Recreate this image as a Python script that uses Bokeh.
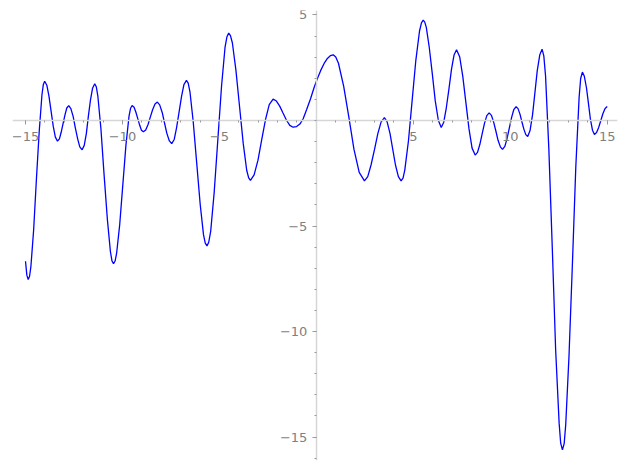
from bokeh.plotting import figure
from bokeh.models import Range1d, FixedTicker
from bokeh.embed import file_html
from bokeh.resources import INLINE

# Curve samples
xs = [-15.00, -14.93, -14.86, -14.79, -14.72, -14.58, -14.44, -14.29, -14.15, -14.08,
      -14.01, -13.90, -13.79, -13.68, -13.57, -13.46, -13.35, -13.25, -13.16, -13.06,
      -12.96, -12.87, -12.77, -12.66, -12.54, -12.43, -12.31, -12.20, -12.08, -11.97,
      -11.86, -11.76, -11.65, -11.54, -11.43, -11.35, -11.27, -11.11, -10.95, -10.78,
      -10.62, -10.54, -10.46, -10.38, -10.30, -10.14, -9.98, -9.82, -9.66, -9.58,
      -9.50, -9.40, -9.31, -9.21, -9.11, -9.02, -8.92, -8.80, -8.68, -8.56,
      -8.44, -8.32, -8.20, -8.08, -7.95, -7.83, -7.71, -7.58, -7.46, -7.33,
      -7.21, -7.08, -6.95, -6.83, -6.70, -6.61, -6.52, -6.35, -6.17, -5.99,
      -5.82, -5.73, -5.64, -5.55, -5.45, -5.27, -5.08, -4.89, -4.71, -4.61,
      -4.52, -4.43, -4.33, -4.15, -3.96, -3.77, -3.59, -3.49, -3.40, -3.21,
      -3.01, -2.82, -2.62, -2.43, -2.23, -2.06, -1.89, -1.72, -1.54, -1.37,
      -1.20, -1.02, -0.85, -0.68, -0.50, -0.30, -0.12, 0.05, 0.22, 0.40,
      0.57, 0.72, 0.87, 1.00, 1.14, 1.41, 1.68, 1.94, 2.21, 2.48,
      2.65, 2.82, 3.00, 3.17, 3.34, 3.51, 3.65, 3.80, 3.94, 4.08,
      4.23, 4.37, 4.47, 4.56, 4.75, 4.94, 5.13, 5.32, 5.42, 5.51,
      5.59, 5.67, 5.82, 5.98, 6.13, 6.29, 6.44, 6.57, 6.70, 6.84,
      6.97, 7.10, 7.23, 7.39, 7.55, 7.71, 7.87, 8.03, 8.19, 8.31,
      8.43, 8.55, 8.67, 8.79, 8.91, 9.03, 9.14, 9.26, 9.37, 9.49,
      9.60, 9.72, 9.83, 9.95, 10.07, 10.18, 10.30, 10.40, 10.50, 10.60,
      10.70, 10.80, 10.90, 11.02, 11.15, 11.27, 11.39, 11.52, 11.64, 11.73,
      11.82, 11.99, 12.17, 12.34, 12.52, 12.60, 12.69, 12.78, 12.86, 13.03,
      13.21, 13.38, 13.55, 13.63, 13.72, 13.82, 13.93, 14.03, 14.13, 14.24,
      14.34, 14.45, 14.56, 14.67, 14.78, 14.89, 15.00]
ys = [-6.67, -7.33, -7.54, -7.38, -6.91, -5.19, -2.84, -0.49, 1.23, 1.70,
      1.86, 1.67, 1.15, 0.44, -0.27, -0.79, -0.98, -0.87, -0.56, -0.14,
      0.28, 0.59, 0.70, 0.56, 0.18, -0.35, -0.87, -1.25, -1.39, -1.18,
      -0.61, 0.18, 0.96, 1.53, 1.74, 1.60, 1.17, -0.39, -2.53, -4.66,
      -6.22, -6.65, -6.79, -6.66, -6.29, -4.92, -3.04, -1.17, 0.21, 0.58,
      0.71, 0.63, 0.40, 0.09, -0.23, -0.46, -0.54, -0.45, -0.19, 0.17,
      0.52, 0.78, 0.87, 0.74, 0.38, -0.12, -0.61, -0.97, -1.10, -0.90,
      -0.35, 0.40, 1.15, 1.70, 1.90, 1.77, 1.37, -0.06, -2.02, -3.98,
      -5.41, -5.81, -5.94, -5.77, -5.26, -3.42, -0.90, 1.62, 3.46, 3.97,
      4.14, 4.02, 3.67, 2.40, 0.65, -1.10, -2.37, -2.72, -2.84, -2.58,
      -1.88, -0.92, 0.05, 0.75, 1.01, 0.92, 0.68, 0.35, 0.01, -0.23,
      -0.32, -0.29, -0.17, 0.08, 0.52, 1.03, 1.55, 1.98, 2.36, 2.70,
      2.94, 3.07, 3.11, 3.01, 2.71, 1.62, 0.13, -1.37, -2.46, -2.86,
      -2.66, -2.11, -1.37, -0.62, -0.07, 0.13, -0.07, -0.62, -1.37, -2.11,
      -2.66, -2.86, -2.73, -2.35, -0.96, 0.95, 2.85, 4.24, 4.62, 4.75,
      4.66, 4.41, 3.48, 2.21, 0.94, 0.01, -0.33, -0.08, 0.59, 1.51,
      2.43, 3.10, 3.35, 3.02, 2.10, 0.86, -0.39, -1.31, -1.64, -1.51,
      -1.14, -0.64, -0.14, 0.23, 0.36, 0.24, -0.07, -0.51, -0.94, -1.25,
      -1.37, -1.23, -0.87, -0.36, 0.15, 0.51, 0.65, 0.56, 0.30, -0.06,
      -0.41, -0.67, -0.76, -0.48, 0.28, 1.31, 2.35, 3.10, 3.38, 3.06,
      2.11, -1.37, -6.12, -10.86, -14.34, -15.29, -15.61, -15.31, -14.41, -11.14,
      -6.66, -2.19, 1.09, 1.99, 2.29, 2.09, 1.55, 0.82, 0.08, -0.46,
      -0.66, -0.57, -0.33, 0.00, 0.33, 0.57, 0.66]

x_major = [-15, -10, -5, 5, 10, 15]
x_labels = ["\u221215", "\u221210", "\u22125", "5", "10", "15"]
x_minor = list(range(-15, 16))
y_major = [-15, -10, -5, 5]
y_labels = ["\u221215", "\u221210", "\u22125", "5"]
y_minor = list(range(-16, 6))

p = figure(frame_width=605, frame_height=450,
           x_range=Range1d(-15.67, 15.53), y_range=Range1d(-16.11, 5.21),
           output_backend="svg", toolbar_location=None,
           min_border_left=12, min_border_right=8, min_border_top=10, min_border_bottom=6)
p.outline_line_color = None
p.grid.visible = False
p.background_fill_color = "white"
p.border_fill_color = "white"

p.line(xs, ys, line_color="#0000ff", line_width=1.3)

p.xaxis.ticker = FixedTicker(ticks=x_major, minor_ticks=x_minor)
p.xaxis.major_label_overrides = dict(zip(x_major, x_labels))
p.yaxis.ticker = FixedTicker(ticks=y_major, minor_ticks=y_minor)
p.yaxis.major_label_overrides = dict(zip(y_major, y_labels))

for ax in (p.xaxis[0], p.yaxis[0]):
    ax.fixed_location = 0
    ax.axis_line_color = "#d6d6d6"
    ax.axis_line_width = 1.5
    ax.major_tick_line_color = "#999999"
    ax.minor_tick_line_color = "#999999"
    ax.major_tick_in = 0
    ax.major_tick_out = 4
    ax.minor_tick_in = 0
    ax.minor_tick_out = 2
    ax.major_label_text_font = "DejaVu Sans"
    ax.major_label_text_font_size = "13px"
    ax.major_label_text_color = "#808080"
    ax.major_label_standoff = 5

p.xaxis[0].major_label_standoff = 8

open("out.html", "w").write(file_html(p, INLINE))
